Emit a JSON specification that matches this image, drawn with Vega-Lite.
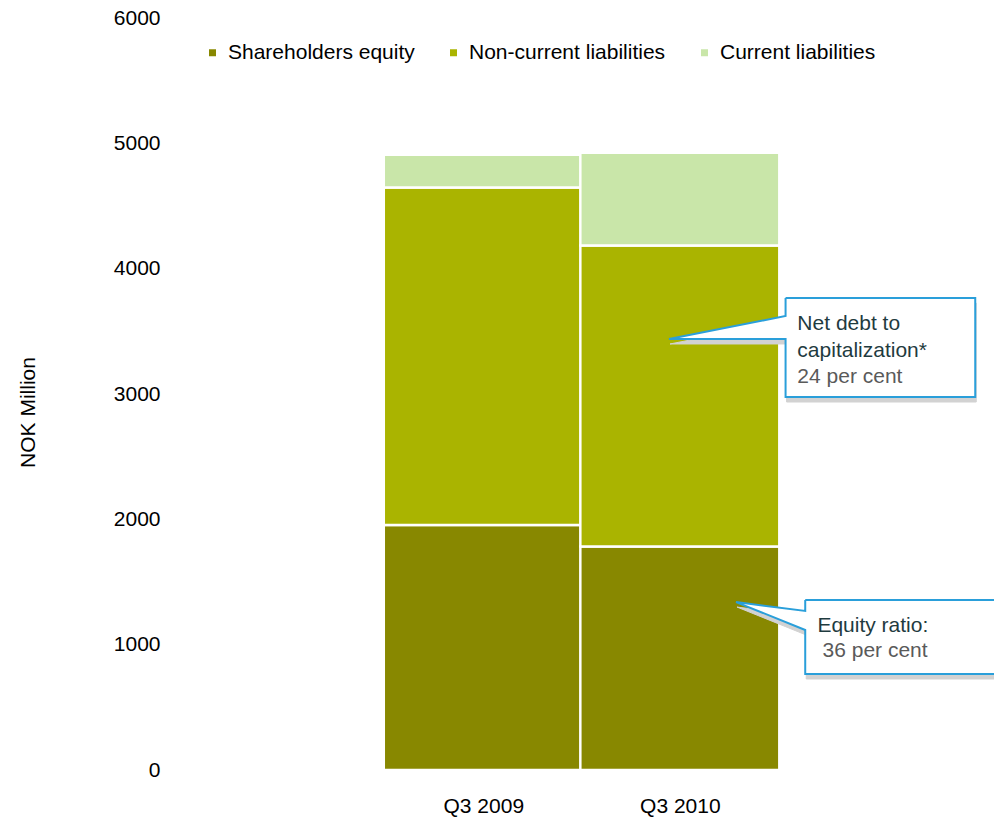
{
  "$schema": "https://vega.github.io/schema/vega-lite/v6.json",
  "autosize": {"type": "none"},
  "padding": {"left": 175, "top": 18, "right": 0, "bottom": 47},
  "width": 819,
  "height": 752,
  "background": "white",
  "config": {
    "font": "Liberation Sans",
    "view": {"stroke": null},
    "axis": {"grid": false, "ticks": false, "domain": false, "labelFont": "Liberation Sans", "labelColor": "#000000", "labelFontSize": 21}
  },
  "datasets": {
    "bars": [
      {"period": 1, "quarter": "Q3 2009", "segment": "Shareholders equity", "amount": 1955},
      {"period": 1, "quarter": "Q3 2009", "segment": "Non-current liabilities", "amount": 2692},
      {"period": 1, "quarter": "Q3 2009", "segment": "Current liabilities", "amount": 262},
      {"period": 2, "quarter": "Q3 2010", "segment": "Shareholders equity", "amount": 1783},
      {"period": 2, "quarter": "Q3 2010", "segment": "Non-current liabilities", "amount": 2402},
      {"period": 2, "quarter": "Q3 2010", "segment": "Current liabilities", "amount": 740}
    ],
    "callouts": [
      {"callout": "debt", "pt": 1, "px": 2.538, "py": 3766},
      {"callout": "debt", "pt": 2, "px": 3.503, "py": 3766},
      {"callout": "debt", "pt": 3, "px": 3.503, "py": 2976},
      {"callout": "debt", "pt": 4, "px": 2.538, "py": 2976},
      {"callout": "debt", "pt": 5, "px": 2.538, "py": 3439},
      {"callout": "debt", "pt": 6, "px": 1.945, "py": 3439},
      {"callout": "debt", "pt": 7, "px": 2.538, "py": 3622},
      {"callout": "debt", "pt": 8, "px": 2.538, "py": 3766},
      {"callout": "equity", "pt": 1, "px": 2.638, "py": 1356},
      {"callout": "equity", "pt": 2, "px": 3.65, "py": 1356},
      {"callout": "equity", "pt": 3, "px": 3.65, "py": 766},
      {"callout": "equity", "pt": 4, "px": 2.638, "py": 766},
      {"callout": "equity", "pt": 5, "px": 2.638, "py": 1117},
      {"callout": "equity", "pt": 6, "px": 2.286, "py": 1340},
      {"callout": "equity", "pt": 7, "px": 2.638, "py": 1269},
      {"callout": "equity", "pt": 8, "px": 2.638, "py": 1356}
    ],
    "notes": [
      {"kind": "label", "text": "Net debt to", "px": 2.598, "py": 3511},
      {"kind": "label", "text": "capitalization*", "px": 2.598, "py": 3295},
      {"kind": "value", "text": "24 per cent", "px": 2.598, "py": 3088},
      {"kind": "label", "text": "Equity ratio:", "px": 2.7, "py": 1101},
      {"kind": "value", "text": "36 per cent", "px": 2.726, "py": 902}
    ]
  },
  "layer": [
    {
      "data": {"name": "bars"},
      "mark": {"type": "bar", "width": 199, "stroke": "white", "strokeWidth": 2.5},
      "encoding": {
        "x": {
          "field": "period", "type": "quantitative",
          "scale": {"domain": [-0.543, 3.573], "nice": false, "zero": false},
          "axis": {"values": [1, 2], "title": null, "labelExpr": "datum.value == 1 ? 'Q3 2009' : 'Q3 2010'", "labelPadding": 25}
        },
        "y": {
          "field": "amount", "type": "quantitative", "aggregate": "sum",
          "scale": {"domain": [0, 6000], "nice": false},
          "axis": {"values": [0, 1000, 2000, 3000, 4000, 5000, 6000], "title": "NOK Million", "titleFontSize": 21, "titleFontWeight": "normal", "titleColor": "#000000", "titlePadding": 75, "titleY": 394, "labelPadding": 15, "format": "d"}
        },
        "color": {
          "field": "segment", "type": "nominal",
          "scale": {"domain": ["Shareholders equity", "Non-current liabilities", "Current liabilities"], "range": ["#888800", "#aab400", "#c9e6a9"]},
          "legend": {"title": null, "orient": "none", "legendX": 27, "legendY": 24, "direction": "horizontal", "columns": 3, "symbolType": "square", "symbolSize": 49, "symbolStrokeWidth": 0, "labelFontSize": 21, "labelColor": "#000000", "labelOffset": 5, "labelLimit": 0, "columnPadding": 28, "padding": 0}
        },
        "order": {"field": "segment", "sort": "descending"}
      }
    },
    {
      "data": {"name": "callouts"},
      "mark": {"type": "line", "fill": "#d2d2d2", "stroke": "#d2d2d2", "strokeWidth": 1, "yOffset": 5, "xOffset": 1},
      "encoding": {
        "x": {"field": "px", "type": "quantitative"},
        "y": {"field": "py", "type": "quantitative"},
        "detail": {"field": "callout"},
        "order": {"field": "pt"}
      }
    },
    {
      "data": {"name": "callouts"},
      "mark": {"type": "line", "fill": "white", "stroke": "#2a9fda", "strokeWidth": 2, "strokeJoin": "miter"},
      "encoding": {
        "x": {"field": "px", "type": "quantitative"},
        "y": {"field": "py", "type": "quantitative"},
        "detail": {"field": "callout"},
        "order": {"field": "pt"}
      }
    },
    {
      "data": {"name": "notes"},
      "transform": [{"filter": "datum.kind == 'label'"}],
      "mark": {"type": "text", "align": "left", "baseline": "alphabetic", "fontSize": 21, "color": "#1f3b3f"},
      "encoding": {
        "x": {"field": "px", "type": "quantitative"},
        "y": {"field": "py", "type": "quantitative"},
        "text": {"field": "text"}
      }
    },
    {
      "data": {"name": "notes"},
      "transform": [{"filter": "datum.kind == 'value'"}],
      "mark": {"type": "text", "align": "left", "baseline": "alphabetic", "fontSize": 21, "color": "#5a5a5a"},
      "encoding": {
        "x": {"field": "px", "type": "quantitative"},
        "y": {"field": "py", "type": "quantitative"},
        "text": {"field": "text"}
      }
    }
  ]
}
